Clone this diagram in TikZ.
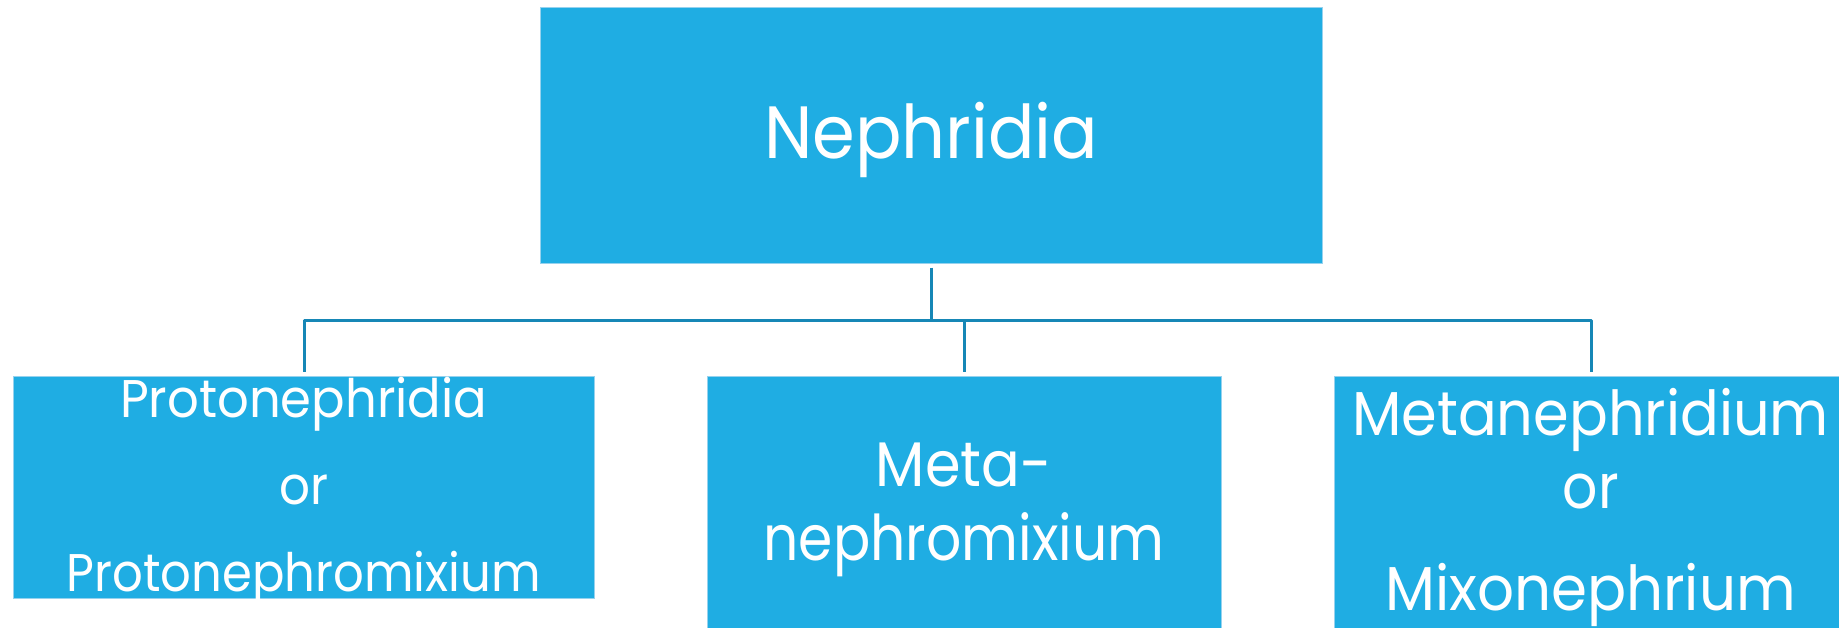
\documentclass[tikz,border=0pt]{standalone}
\usepackage{fontspec}
\usepackage{graphicx}
\newfontfamily\gfont{Poppins}
\definecolor{boxblue}{RGB}{31,173,227}
\definecolor{boxedge}{RGB}{150,210,238}
\definecolor{linkblue}{RGB}{22,135,182}
\newcommand{\fitline}[3]{\resizebox{#1}{\height}{\fontsize{#2}{#2}\selectfont\gfont #3}}
\begin{document}
\begin{tikzpicture}[x=1pt,y=-1pt,
  box/.style={draw=boxedge, line width=1pt, fill=boxblue, inner sep=0pt, anchor=north west},
  lbl/.style={text=white, anchor=base, inner sep=0pt},
  link/.style={draw=linkblue, line width=3pt, line join=round, shorten <=4pt, shorten >=4pt}]
\useasboundingbox (0,0) rectangle (1839,628);
% boxes
\node[box, minimum width=782pt, minimum height=256pt] (top) at (540,7) {};
\node[box, minimum width=580.7pt, minimum height=222.3pt] (pl) at (13.3,375.7) {};
\node[box, minimum width=514.3pt, minimum height=270pt] (pm) at (706.7,375.7) {};
\node[box, minimum width=513pt, minimum height=270pt] (pr) at (1334,375.7) {};
% connectors
\draw[link] (top.south) -- ++(0,56.3) -| (pl.north);
\draw[link] (top.south) -- ++(0,56.3) -| (pm.north);
\draw[link] (top.south) -- ++(0,56.3) -| (pr.north);
% labels
\node[lbl] (tN) at (931,158.3) {\fitline{334pt}{74pt}{Nephridia}};
\node[lbl] (l1) at (303.7,417.3) {\fitline{367pt}{53pt}{Protonephridia}};
\node[lbl] (l2) at (303.7,504.3) {\fitline{49pt}{53pt}{or}};
\node[lbl] (l3) at (303.7,591.7) {\fitline{474pt}{53pt}{Protonephromixium}};
\node[lbl] (m1) at (963.9,486.7) {\fitline{176pt}{63pt}{Meta-}};
\node[lbl] (m2) at (963.9,560) {\fitline{400.7pt}{63pt}{nephromixium}};
\node[lbl] (r1) at (1590.6,435) {\fitline{476.7pt}{62pt}{Metanephridium}};
\node[lbl] (r2) at (1590.6,508.3) {\fitline{56pt}{62pt}{or}};
\node[lbl] (r3) at (1590.6,610) {\fitline{410.7pt}{62pt}{Mixonephrium}};
\end{tikzpicture}
\end{document}
